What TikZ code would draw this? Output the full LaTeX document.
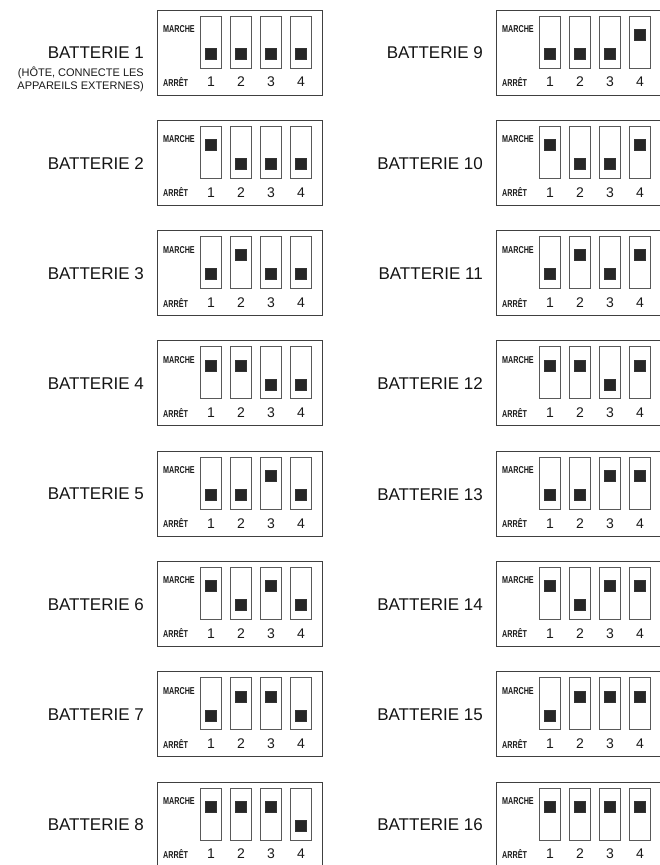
\documentclass[tikz,border=0pt]{standalone}
\usepackage{fontspec}
\setmainfont{Liberation Sans}
\usepackage{graphicx}
\newcommand\condtxt[1]{\scalebox{0.72}[1]{#1}}
\begin{document}
\begin{tikzpicture}[x=1pt,y=-1pt,
  box/.style={draw=black!75, line width=1pt, minimum width=165pt, minimum height=85pt, inner sep=0pt, outer sep=0pt, anchor=north west},
  slot/.style={draw=black!65, line width=1pt, minimum width=21pt, minimum height=52pt, inner sep=0pt, outer sep=0pt, anchor=north},
  knob/.style={draw=black!80, fill=black!85, line width=0.6pt, minimum size=11pt, inner sep=0pt},
  tag/.style={font=\bfseries\fontsize{10}{10}\selectfont, text=black!90, inner sep=0pt, anchor=west},
  num/.style={font=\fontsize{14}{14}\selectfont, text=black!90, inner sep=0pt},
  batt/.style={font=\fontsize{17}{17}\selectfont, text=black!92, inner sep=0pt, anchor=east},
  sub/.style={font=\fontsize{11}{11}\selectfont, text=black!90, inner sep=0pt, anchor=east}]
\useasboundingbox (0,0) rectangle (660,865);
\clip (0,0) rectangle (660,865);
\fill[white] (0,0) rectangle (660,865);
\foreach \n in {1,...,16} {
  \pgfmathtruncatemacro\col{(\n-1)/8}
  \pgfmathtruncatemacro\row{\n-1-8*\col}
  \pgfmathsetmacro\bx{157+339*\col}
  \pgfmathsetmacro\by{10+110.3*\row}
  \node[box] (box\n) at (\bx,\by) {};
  \node[batt] (lab\n) at (\bx-13,\by+43) {BATTERIE \n};
  \node[tag] (on\n) at (\bx+6,\by+19) {\condtxt{MARCHE}};
  \node[tag] (off\n) at (\bx+6,\by+72) {\condtxt{ARRÊT}};
  \foreach \k in {1,...,4} {
    \pgfmathsetmacro\sx{\bx+54+30*(\k-1)}
    \pgfmathtruncatemacro\bit{mod(floor((\n-1)/2^(\k-1)),2)}
    \pgfmathsetmacro\sy{\bit==1 ? \by+24.5 : \by+43.5}
    \node[slot] (sl\n-\k) at (\sx,\by+6) {};
    \node[knob] (kn\n-\k) at (\sx,\sy) {};
    \node[num] (nm\n-\k) at (\sx,\by+72) {\k};
  }
}
\node[sub] (subA) at (144,72.5) {(HÔTE, CONNECTE LES};
\node[sub] (subB) at (144,87) {APPAREILS EXTERNES)};
\end{tikzpicture}
\end{document}
